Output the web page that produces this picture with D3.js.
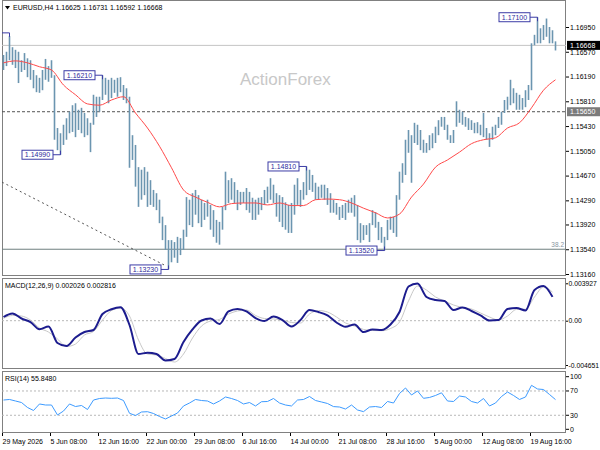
<!DOCTYPE html>
<html>
<head>
<meta charset="utf-8">
<script src="https://cdn.jsdelivr.net/npm/d3@7"></script>
<style>
body { margin: 0; background: #fff; }
text { font-family: "Liberation Sans", Arial, sans-serif; }
</style>
</head>
<body>
<script>
// EURUSD H4 - one entry per bar slot (each slot is 3px wide on screen)
var high = [
1.1652,1.1657,1.1681,1.1664,1.1660,1.1657,1.1644,1.1655,1.1647,1.1644,
1.1629,1.1621,1.1617,1.1629,1.1646,1.1635,1.1644,1.1621,1.1540,1.1532,
1.1545,1.1555,1.1565,1.1575,1.1578,1.1568,1.1571,1.1563,1.1555,1.1548,
1.1591,1.1588,1.1588,1.1621,1.1617,1.1614,1.1617,1.1614,1.1617,1.1618,
1.1606,1.1601,1.1588,1.1529,1.1514,1.1480,1.1476,1.1480,1.1473,1.1460,
1.1445,1.1440,1.1430,1.1404,1.1391,1.1368,1.1368,1.1365,1.1373,1.1371,
1.1384,1.1434,1.1430,1.1440,1.1445,1.1437,1.1430,1.1425,1.1430,1.1422,
1.1414,1.1399,1.1396,1.1419,1.1473,1.1460,1.1463,1.1457,1.1445,1.1442,
1.1442,1.1448,1.1442,1.1433,1.1430,1.1433,1.1434,1.1445,1.1450,1.1463,
1.1453,1.1440,1.1437,1.1434,1.1426,1.1422,1.1425,1.1453,1.1463,1.1445,
1.1457,1.1481,1.1476,1.1468,1.1456,1.1450,1.1453,1.1453,1.1448,1.1440,
1.1430,1.1425,1.1419,1.1422,1.1425,1.1430,1.1433,1.1437,1.1422,1.1394,
1.1391,1.1391,1.1394,1.1414,1.1411,1.1396,1.1388,1.1373,1.1399,1.1404,
1.1404,1.1437,1.1473,1.1486,1.1522,1.1537,1.1529,1.1548,1.1545,1.1537,
1.1522,1.1517,1.1529,1.1532,1.1542,1.1552,1.1557,1.1557,1.1545,1.1529,
1.1537,1.1581,1.1568,1.1565,1.1557,1.1555,1.1552,1.1548,1.1549,1.1545,
1.1563,1.1540,1.1532,1.1542,1.1545,1.1557,1.1565,1.1583,1.1588,1.1614,
1.1601,1.1594,1.1591,1.1586,1.1598,1.1606,1.1670,1.1683,1.1710,1.1693,
1.1698,1.1708,1.1695,1.1690,1.1673
];
var low = [
1.1629,1.1635,1.1644,1.1637,1.1632,1.1609,1.1626,1.1629,1.1618,1.1614,
1.1601,1.1595,1.1594,1.1598,1.1614,1.1611,1.1617,1.1522,1.1506,1.1499,
1.1514,1.1522,1.1532,1.1534,1.1526,1.1537,1.1532,1.1526,1.1529,1.1503,
1.1545,1.1557,1.1565,1.1583,1.1591,1.1578,1.1586,1.1594,1.1588,1.1595,
1.1583,1.1578,1.1479,1.1491,1.1450,1.1419,1.1430,1.1437,1.1419,1.1422,
1.1419,1.1414,1.1394,1.1368,1.1353,1.1323,1.1334,1.1341,1.1333,1.1345,
1.1353,1.1373,1.1391,1.1388,1.1407,1.1394,1.1388,1.1399,1.1404,1.1384,
1.1373,1.1364,1.1361,1.1384,1.1414,1.1425,1.1430,1.1425,1.1414,1.1422,
1.1425,1.1414,1.1410,1.1399,1.1399,1.1407,1.1414,1.1422,1.1425,1.1430,
1.1425,1.1404,1.1396,1.1388,1.1384,1.1379,1.1379,1.1407,1.1422,1.1419,
1.1430,1.1437,1.1445,1.1442,1.1430,1.1430,1.1433,1.1430,1.1422,1.1410,
1.1410,1.1407,1.1399,1.1402,1.1399,1.1410,1.1410,1.1404,1.1368,1.1364,
1.1368,1.1376,1.1365,1.1391,1.1387,1.1368,1.1364,1.1352,1.1368,1.1384,
1.1379,1.1373,1.1430,1.1456,1.1468,1.1502,1.1456,1.1517,1.1514,1.1506,
1.1502,1.1502,1.1506,1.1509,1.1517,1.1529,1.1542,1.1537,1.1522,1.1517,
1.1517,1.1542,1.1548,1.1545,1.1542,1.1537,1.1537,1.1532,1.1532,1.1529,
1.1526,1.1522,1.1511,1.1522,1.1529,1.1540,1.1545,1.1563,1.1568,1.1575,
1.1578,1.1568,1.1568,1.1568,1.1572,1.1583,1.1598,1.1667,1.1670,1.1670,
1.1675,1.1680,1.1670,1.1670,1.1659
];

// moving average, one value every 4 slots
var maStep = 4;
var maValues = [
1.1640,1.1643,1.1640,1.1634,1.1629,1.1606,1.1591,1.1577,1.1575,1.1583,
1.1588,1.1563,1.1540,1.1512,1.1479,1.1445,1.1434,1.1426,1.1419,1.1424,
1.1425,1.1425,1.1422,1.1425,1.1421,1.1421,1.1430,1.1431,1.1430,1.1425,
1.1417,1.1410,1.1402,1.1408,1.1434,1.1454,1.1480,1.1491,1.1503,1.1516,
1.1522,1.1525,1.1540,1.1548,1.1571,1.1598,1.1614
];

// MACD(12,26,9), one value every 3 slots
var macdStep = 3;
var macdMain = [
0.00039,0.00076,0.00023,-0.00014,-0.00090,-0.00061,-0.00234,-0.00266,-0.00176,-0.00119,
-0.00098,0.00070,0.00120,0.00141,-0.00045,-0.00350,-0.00336,-0.00350,-0.00418,-0.00402,
-0.00224,-0.00092,0.00002,0.00023,-0.00035,0.00097,0.00123,0.00097,0.00028,-0.00003,
0.00044,0.00007,-0.00061,0.00007,0.00112,0.00091,0.00055,-0.00019,-0.00064,-0.00040,
-0.00119,-0.00092,-0.00098,-0.00040,0.00091,0.00359,0.00391,0.00249,0.00217,0.00207,
0.00112,0.00139,0.00102,0.00055,0.00002,0.00007,0.00123,0.00133,0.00107,0.00322,
0.00364,0.00250
];
var macdSignal = [
0.00025,0.00055,0.00049,0.00007,-0.00077,-0.00119,-0.00192,-0.00271,-0.00245,-0.00150,
-0.00113,0.00007,0.00107,0.00133,0.00049,-0.00203,-0.00350,-0.00360,-0.00397,-0.00434,
-0.00350,-0.00182,-0.00056,-0.00003,0.00013,0.00070,0.00102,0.00112,0.00055,0.00023,
0.00018,0.00007,-0.00019,-0.00024,0.00070,0.00107,0.00091,0.00039,-0.00024,-0.00056,
-0.00092,-0.00103,-0.00105,-0.00082,-0.00014,0.00207,0.00364,0.00322,0.00249,0.00207,
0.00165,0.00139,0.00123,0.00081,0.00039,0.00007,0.00049,0.00118,0.00120,0.00249,
0.00354,0.00300
];
var macdLast = [0.002026, 0.002816];

// RSI(14), one value every 2 slots
var rsiStep = 2;
var rsiValues = [
55.1,56.0,53.5,51.0,42.8,37.9,48.6,46.9,46.9,30.5,
37.0,48.6,44.4,46.1,39.5,55.1,57.6,58.4,57.9,58.4,
54.3,33.3,29.6,35.4,35.9,32.9,28.0,23.9,28.8,33.7,
45.3,50.2,56.0,54.3,53.5,48.6,53.5,60.1,57.6,54.3,
48.6,51.0,45.3,52.3,52.7,57.6,50.2,46.9,45.3,55.1,
56.0,60.9,54.3,51.9,49.4,44.3,43.6,40.3,46.9,38.7,
36.0,43.6,44.4,42.8,52.7,50.2,65.8,74.9,63.4,70.0,
57.9,59.3,62.6,67.0,53.5,52.7,61.7,60.1,52.7,50.2,
57.6,45.3,50.2,60.9,68.3,62.6,56.0,60.1,79.3,73.3,
72.4,64.2,55.8
];
var rsiLast = 55.8480;

var priceTicks = [1.1695,1.1657,1.1619,1.1581,1.1543,1.1505,1.1467,1.1429,1.1392,1.1354,1.1316];
var macdTicks = [0.003927, 0, -0.004651];
var rsiTicks = [100, 70, 30, 0];
var timeLabels = ["29 May 2026","5 Jun 08:00","12 Jun 16:00","22 Jun 00:00","29 Jun 08:00",
  "6 Jul 16:00","14 Jul 00:00","21 Jul 08:00","28 Jul 16:00","5 Aug 00:00","12 Aug 08:00","19 Aug 16:00"];
var labelEvery = 16;

var lastBar = [1.16625, 1.16731, 1.16592, 1.16668];
var bidPrice = 1.16668;
var levelDashed = 1.1565;
var levelFibo = 1.1354;
var trendLine = [{bar: -0.5, price: 1.1457}, {bar: 53.5, price: 1.1330}];
var peaks = [
  {bar: 2, price: 1.1686, type: "high", box: false},
  {bar: 33, price: 1.1621, type: "high", box: true},
  {bar: 19, price: 1.1499, type: "low", box: true},
  {bar: 55, price: 1.1323, type: "low", box: true},
  {bar: 101, price: 1.1481, type: "high", box: true},
  {bar: 127, price: 1.1352, type: "low", box: true},
  {bar: 178, price: 1.1710, type: "high", box: true}
];

var W = 600, H = 450, plotL = 2, plotR = 566;
var mainTop = 0, mainBot = 276, macdTop = 278, macdBot = 369, rsiTop = 371, rsiBot = 433;

var svg = d3.select("body").append("svg").attr("width", W).attr("height", H);

var x = d3.scaleLinear().domain([0, 185]).range([2, 557]);
var y = d3.scaleLinear().domain([1.1316, 1.1695]).range([274, 27]);
var yMacd = d3.scaleLinear().domain([-0.004651, 0.003927]).range([365, 283.3]);
var yRsi = d3.scaleLinear().domain([0, 100]).range([433.5, 372.75]);

var defs = svg.append("defs");
function clip(id, t, b) {
  defs.append("clipPath").attr("id", id).append("rect")
      .attr("x", plotL).attr("y", t).attr("width", plotR - plotL).attr("height", b - t);
}
clip("clipMain", mainTop, mainBot);
clip("clipMacd", macdTop, macdBot);
clip("clipRsi", rsiTop, rsiBot);

// panel frames
[[mainTop, mainBot], [macdTop, macdBot], [rsiTop, rsiBot]].forEach(function(p) {
  svg.append("rect").attr("x", plotL + 0.5).attr("y", p[0] + 0.5)
     .attr("width", plotR - plotL - 1).attr("height", p[1] - p[0] - 1)
     .attr("fill", "none").attr("stroke", "#808080");
});

// ---------- main panel ----------
var main = svg.append("g").attr("clip-path", "url(#clipMain)");

main.append("text").attr("x", 240).attr("y", 85)
    .attr("font-size", 17).attr("fill", "#c8c8c8").text("ActionForex");

main.append("line").attr("x1", plotL).attr("x2", plotR)
    .attr("y1", y(bidPrice)).attr("y2", y(bidPrice))
    .attr("stroke", "#c4c4c4");
main.append("line").attr("x1", plotL).attr("x2", plotR)
    .attr("y1", y(levelDashed)).attr("y2", y(levelDashed))
    .attr("stroke", "#555").attr("stroke-dasharray", "3,2");
main.append("line").attr("x1", plotL).attr("x2", plotR)
    .attr("y1", y(levelFibo)).attr("y2", y(levelFibo))
    .attr("stroke", "#6f7f7f");
main.append("text").attr("x", 564).attr("y", y(levelFibo) - 2)
    .attr("text-anchor", "end").attr("font-size", 6.5).attr("fill", "#8794a0").text("38.2");

main.append("line")
    .attr("x1", x(trendLine[0].bar + 0.5)).attr("y1", y(trendLine[0].price))
    .attr("x2", x(trendLine[1].bar + 0.5)).attr("y2", y(trendLine[1].price))
    .attr("stroke", "#555").attr("stroke-dasharray", "2,3");

main.selectAll("line.bar").data(high).join("line").attr("class", "bar")
    .attr("x1", function(d, i) { return x(i + 0.5); })
    .attr("x2", function(d, i) { return x(i + 0.5); })
    .attr("y1", function(d) { return y(d); })
    .attr("y2", function(d, i) { return y(low[i]); })
    .attr("stroke", "#6b95b0").attr("stroke-width", 1.6);

var lineMa = d3.line()
    .x(function(d, i) { return x(i * maStep + 0.5); })
    .y(function(d) { return y(d); })
    .curve(d3.curveMonotoneX);
main.append("path").datum(maValues).attr("d", lineMa)
    .attr("fill", "none").attr("stroke", "#ff4a4a").attr("stroke-width", 1);

peaks.forEach(function(p) {
  var bx = x(p.bar + 0.5), py = y(p.price);
  var boxR = p.box ? bx - 8 : plotL, boxW = 31, boxH = 9;
  var dir = p.type == "high" ? 4 : -4;
  main.append("path")
      .attr("d", "M" + boxR + "," + py + "H" + bx + "V" + (py + dir))
      .attr("fill", "none").attr("stroke", "#3c3ca6");
  if (!p.box) return;
  main.append("rect").attr("x", boxR - boxW + 0.5).attr("y", py - boxH / 2)
      .attr("width", boxW).attr("height", boxH)
      .attr("fill", "#fff").attr("stroke", "#3c3ca6");
  main.append("text").attr("x", boxR - boxW / 2 + 0.5).attr("y", py + 2.6)
      .attr("text-anchor", "middle").attr("font-size", 7).attr("fill", "#2b2b9c")
      .text(p.price.toFixed(5));
});

// header
svg.append("path").attr("d", "M5,6H10L7.5,9.5Z").attr("fill", "#000");
svg.append("text").attr("x", 13).attr("y", 10).attr("font-size", 7).attr("fill", "#000")
    .text("EURUSD,H4  " + lastBar.map(function(v) { return v.toFixed(5); }).join(" "));

// price axis
var axisPrice = d3.axisRight(y).tickValues(priceTicks).tickSize(3)
    .tickFormat(d3.format(".5f"));
svg.append("g").attr("transform", "translate(" + plotR + ",0)").call(axisPrice)
    .call(function(g) { g.select(".domain").remove(); })
    .call(function(g) {
      g.selectAll("text").attr("font-size", 7).attr("fill", "#000").attr("x", 4)
       .style("font-family", "Liberation Sans, Arial, sans-serif");
    });

function priceBox(v, bg) {
  var g = svg.append("g");
  g.append("rect").attr("x", 567).attr("y", y(v) - 4.5).attr("width", 33).attr("height", 9)
   .attr("fill", bg);
  g.append("text").attr("x", 570).attr("y", y(v) + 2.6).attr("font-size", 7)
   .attr("fill", "#fff").text(v.toFixed(5));
}
priceBox(levelDashed, "#7b7b7b");
priceBox(bidPrice, "#000");

// ---------- MACD panel ----------
var macdG = svg.append("g").attr("clip-path", "url(#clipMacd)");
macdG.append("line").attr("x1", plotL).attr("x2", plotR)
    .attr("y1", yMacd(0)).attr("y2", yMacd(0))
    .attr("stroke", "#b8b8b8").attr("stroke-dasharray", "2,2");
var lineMacd = d3.line()
    .x(function(d, i) { return x(i * macdStep + 0.5); })
    .y(function(d) { return yMacd(d); })
    .curve(d3.curveMonotoneX);
macdG.append("path").datum(macdSignal).attr("d", lineMacd)
    .attr("fill", "none").attr("stroke", "#c8c8c8").attr("stroke-width", 1);
macdG.append("path").datum(macdMain).attr("d", lineMacd)
    .attr("fill", "none").attr("stroke", "#1c1c8e").attr("stroke-width", 2);

svg.append("text").attr("x", 5).attr("y", 288).attr("font-size", 7).attr("fill", "#000")
    .text("MACD(12,26,9) " + macdLast[0].toFixed(6) + " " + macdLast[1].toFixed(6));

var axisMacd = d3.axisRight(yMacd).tickValues(macdTicks).tickSize(2)
    .tickFormat(function(d) { return d == 0 ? "0.00" : d.toFixed(6); });
svg.append("g").attr("transform", "translate(" + plotR + ",0)").call(axisMacd)
    .call(function(g) { g.select(".domain").remove(); })
    .call(function(g) {
      g.selectAll("text").attr("font-size", 6.8).attr("fill", "#000").attr("x", 2.5)
       .style("font-family", "Liberation Sans, Arial, sans-serif");
    });

// ---------- RSI panel ----------
var rsiG = svg.append("g").attr("clip-path", "url(#clipRsi)");
[70, 30].forEach(function(v) {
  rsiG.append("line").attr("x1", plotL).attr("x2", plotR)
      .attr("y1", yRsi(v)).attr("y2", yRsi(v))
      .attr("stroke", "#b8b8b8").attr("stroke-dasharray", "2,2");
});
var lineRsi = d3.line()
    .x(function(d, i) { return x(i * rsiStep + 0.5); })
    .y(function(d) { return yRsi(d); });
rsiG.append("path").datum(rsiValues).attr("d", lineRsi)
    .attr("fill", "none").attr("stroke", "#3d9bff").attr("stroke-width", 1);

svg.append("text").attr("x", 5).attr("y", 381).attr("font-size", 7).attr("fill", "#000")
    .text("RSI(14) " + rsiLast.toFixed(4));

var rsiAxisG = svg.append("g").attr("transform", "translate(" + plotR + ",0)");
rsiTicks.forEach(function(v) {
  var ty = Math.max(376.7, Math.min(429.3, yRsi(v)));
  rsiAxisG.append("line").attr("x1", 0).attr("x2", 3).attr("y1", ty).attr("y2", ty).attr("stroke", "#000");
  rsiAxisG.append("text").attr("x", 4).attr("y", ty + 2.3).attr("font-size", 7).attr("fill", "#000").text(v);
});

// ---------- time axis ----------
var axisTime = d3.axisBottom(x)
    .tickValues(timeLabels.map(function(d, i) { return i * labelEvery; }))
    .tickFormat(function(d, i) { return timeLabels[i]; })
    .tickSize(3);
svg.append("g").attr("transform", "translate(0," + rsiBot + ")").call(axisTime)
    .call(function(g) { g.select(".domain").remove(); })
    .call(function(g) {
      g.selectAll("text").attr("font-size", 7).attr("fill", "#000")
       .attr("text-anchor", "start").attr("dy", 0).attr("y", 11)
       .style("font-family", "Liberation Sans, Arial, sans-serif");
    });
</script>
</body>
</html>
